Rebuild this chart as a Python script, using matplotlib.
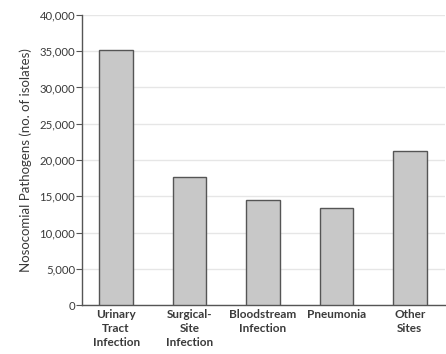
import matplotlib
matplotlib.use("Agg")
import matplotlib.pyplot as plt
from matplotlib.ticker import FuncFormatter

# Nosocomial pathogens by infection site (no. of isolates)
sites = ["Urinary\nTract\nInfection", "Surgical-\nSite\nInfection",
         "Bloodstream\nInfection", "Pneumonia", "Other\nSites"]
isolates = [35100, 17700, 14500, 13400, 21200]
yticks = [0, 5000, 10000, 15000, 20000, 25000, 30000, 35000, 40000]

plt.rcParams['font.family'] = ['Lato', 'DejaVu Sans']
text_color = "#3a3a3a"

fig = plt.figure(figsize=(4.46, 3.54), dpi=100)
ax = fig.add_axes([0.184, 0.138, 0.814, 0.82])

x = list(range(len(sites)))
ax.bar(x, isolates, width=0.46, color="#c8c8c8", edgecolor="#555555",
       linewidth=1.0, zorder=3)

ax.set_ylim(0, 40000)
ax.set_xlim(-0.463, 4.48)
ax.set_yticks(yticks)
ax.yaxis.set_major_formatter(FuncFormatter(lambda v, p: f"{int(v):,}"))
ax.grid(axis="y", color="#e6e6e6", linewidth=1.0, zorder=0)

ax.set_xticks(x)
ax.set_xticklabels(sites, fontsize=8.5, fontweight="bold", color=text_color,
                   linespacing=1.3, va="top")
ax.tick_params(axis="x", length=0, pad=3)
ax.tick_params(axis="y", length=4, width=0.8, color="#555555",
               labelsize=8.2, labelcolor=text_color, pad=1)

for s in ["top", "right"]:
    ax.spines[s].set_visible(False)
for s in ["left", "bottom"]:
    ax.spines[s].set_color("#555555")
    ax.spines[s].set_linewidth(1.0)

ax.set_ylabel("Nosocomial Pathogens (no. of isolates)", fontsize=9.5,
              color=text_color, labelpad=5)

fig.savefig("out.png", dpi=100)
